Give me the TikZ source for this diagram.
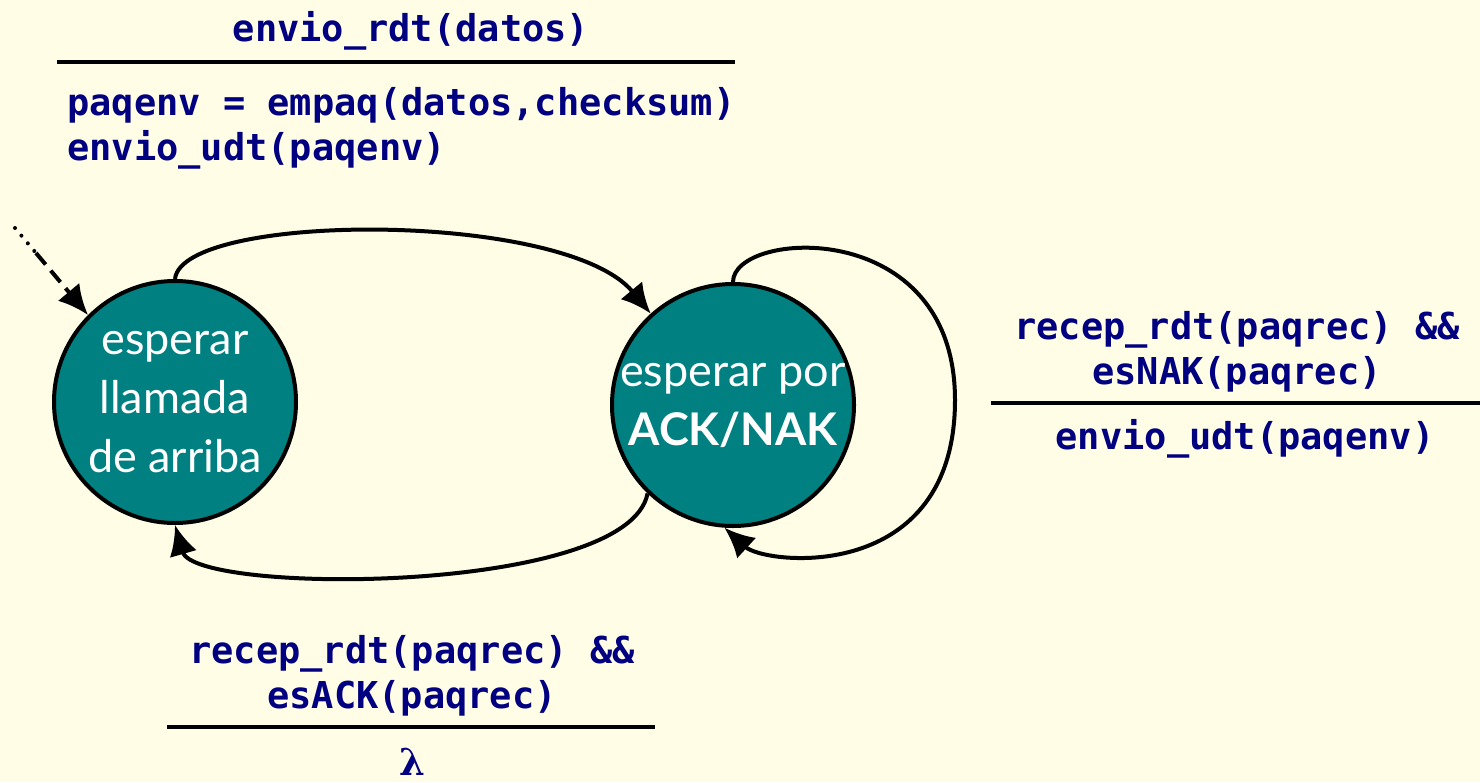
\documentclass[tikz,border=0pt]{standalone}
\usepackage{fontspec}
\setmonofont{DejaVu Sans Mono}
\newfontfamily\statefont{Lato}
\newfontfamily\lamfont{DejaVu Serif}
\usetikzlibrary{arrows.meta}
\definecolor{bgyellow}{RGB}{255,253,229}
\definecolor{stateteal}{RGB}{0,128,128}
\definecolor{codeblue}{RGB}{0,0,128}
\tikzset{
  statenode/.style={circle, draw=black, line width=4pt, fill=stateteal,
    minimum size=242pt, inner sep=0pt, text=white, align=center,
    font=\statefont\fontsize{45}{59}\selectfont},
  codetext/.style={text=codeblue, align=center, inner sep=0pt,
    font=\ttfamily\bfseries\fontsize{37}{45}\selectfont},
  codeleft/.style={codetext, align=left},
  sepline/.style={line width=4pt},
  trans/.style={line width=4pt, -{Latex[length=30pt,width=28pt]}},
}
\begin{document}
\begin{tikzpicture}[x=1pt,y=-1pt]
  \fill[bgyellow] (0,0) rectangle (1480,782);
  \useasboundingbox (0,0) rectangle (1480,782);

  % states
  \node[statenode] (L) at (175,402) {esperar\\llamada\\de arriba};
  \node[statenode] (R) at (733,405) {esperar por\\\bfseries ACK/NAK};

  % initial transition
  \coordinate (init) at (15,228);
  \coordinate (initmid) at (36,253);
  \draw[line width=4pt, line cap=round, dash pattern=on 0pt off 10pt] (init) -- (initmid);
  \draw[trans, dash pattern=on 15pt off 8pt] (initmid) -- (L.135);

  % transitions between states
  \draw[trans] (L.90) .. controls (182,212) and (565,210) .. (R.132);
  \draw[trans] (R.226) .. controls (628,595) and (195,595) .. (L.270);

  % self loop on the waiting state
  \coordinate (loopright) at (955,400);
  \draw[line width=4pt] (R.90) .. controls (733,230) and (955,215) .. (loopright);
  \draw[trans] (loopright) .. controls (955,585) and (765,565) .. (R.266);

  % label: send data
  \node[codetext, anchor=base] (t1ev) at (411,41) {envio\_rdt(datos)};
  \coordinate (t1a) at (57,62);
  \coordinate (t1b) at (735,62);
  \draw[sepline] (t1a) -- (t1b);
  \node[codeleft, anchor=north west] (t1act) at (67,87)
    {paqenv = empaq(datos,checksum)\\envio\_udt(paqenv)};

  % label: NAK received
  \node[codetext, anchor=south] (t2ev) at (1237,392)
    {recep\_rdt(paqrec) \&\&\\esNAK(paqrec)};
  \coordinate (t2a) at (991,403);
  \coordinate (t2b) at (1480,403);
  \draw[sepline] (t2a) -- (t2b);
  \node[codetext, anchor=base] (t2act) at (1245,449) {envio\_udt(paqenv)};

  % label: ACK received
  \node[codetext, anchor=south] (t3ev) at (412,716)
    {recep\_rdt(paqrec) \&\&\\esACK(paqrec)};
  \coordinate (t3a) at (167,727);
  \coordinate (t3b) at (655,727);
  \draw[sepline] (t3a) -- (t3b);
  \node[codetext, anchor=base, font=\lamfont\bfseries\fontsize{37}{45}\selectfont] (t3act) at (412,775) {λ};
\end{tikzpicture}
\end{document}
